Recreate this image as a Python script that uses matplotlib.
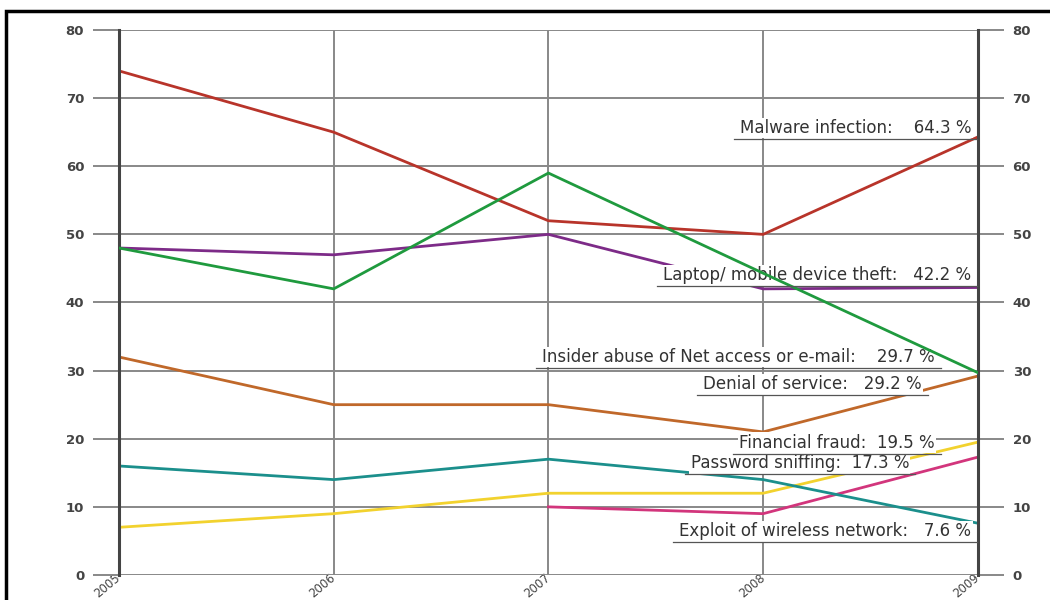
import matplotlib
matplotlib.use('Agg')
import matplotlib.pyplot as plt
from matplotlib.lines import Line2D
from matplotlib.patches import Rectangle
import numpy as np

# data (percent of respondents)
years = [2005, 2006, 2007, 2008, 2009]
malware = [74, 65, 52, 50, 64.3]
laptop = [48, 47, 50, 42, 42.2]
insider = [48, 42, 59, 44.3, 29.7]
denial = [32, 25, 25, 21, 29.2]
fraud = [7, 9, 12, 12, 19.5]
sniffing = [np.nan, np.nan, 10, 9, 17.3]
wireless = [16, 14, 17, 14, 7.6]

series_names = ['Malware infection', 'Laptop/ mobile device theft',
                'Insider abuse of Net access or e-mail', 'Denial of service',
                'Financial fraud', 'Password sniffing',
                'Exploit of wireless network']
series_values = [malware, laptop, insider, denial, fraud, sniffing, wireless]
series_colors = ['#b8342a', '#7d2b88', '#1f9a3e', '#c0682a',
                 '#f2d22e', '#d2357c', '#1b8f8c']
line_z = [2, 2, 4, 2, 2, 2, 2]

# label placement (x right end, y centre) and gap between name and value
label_pos = [(2008.97, 65.6, '    '), (2008.97, 44.0, '   '), (2008.80, 32.0, '    '),
             (2008.74, 28.0, '   '), (2008.80, 19.4, '  '), (2008.68, 16.4, '  '),
             (2008.97, 6.4, '   ')]

fig = plt.figure(figsize=(10.5, 6), dpi=100)
fig.patch.set_facecolor('white')
ax = fig.add_axes([0.1133, 0.0417, 0.818, 0.9083])

for name, vals, col, z in zip(series_names, series_values, series_colors, line_z):
    ax.plot(years, vals, color=col, lw=2.0, zorder=z, solid_joinstyle='miter')

ax.set_xlim(2005, 2009)
ax.set_ylim(0, 80)
ax.set_yticks(range(0, 81, 10))
ax.set_xticks(years)
ax.set_xticklabels([str(y) for y in years], rotation=40, ha='right',
                   va='center', rotation_mode='anchor', fontsize=8.5,
                   color='#444444')
ax.tick_params(axis='x', length=0, pad=1)
ax.tick_params(axis='y', which='both', left=True, right=True, labelleft=True,
               labelright=True, length=19, width=1.4, color='#888888',
               labelsize=9.5, labelcolor='#444444', pad=6)
for lab in ax.get_yticklabels():
    lab.set_fontweight('bold')
ax.grid(True, color='#888888', lw=1.4, zorder=0)
ax.set_axisbelow(True)

for side in ['top', 'bottom']:
    ax.spines[side].set_visible(False)
for side in ['left', 'right']:
    ax.spines[side].set_color('#444444')
    ax.spines[side].set_linewidth(2.2)

texts = []
for (xr, yc, gap), name, vals in zip(label_pos, series_names, series_values):
    t = ax.text(xr, yc, name + ':' + gap + '%.1f %%' % vals[-1], ha='right',
                va='center', fontsize=12, color='#333333', zorder=3,
                bbox=dict(facecolor='white', edgecolor='none', pad=1.0))
    texts.append(t)

fig.canvas.draw()
for t in texts:
    bb = t.get_window_extent()
    x0, x1 = bb.x0 - 6, bb.x1 + 6
    yy = bb.y0 - 2
    fig.add_artist(Line2D([x0 / 1050, x1 / 1050], [yy / 600, yy / 600],
                          transform=fig.transFigure, color='#555555', lw=0.9,
                          zorder=5))

# outer black frame of the original picture (open on the right and bottom)
fig.add_artist(Rectangle((6 / 1050, -0.05), 1.1, 1 - 11 / 600 + 0.05,
                         transform=fig.transFigure, fill=False,
                         edgecolor='black', lw=2.5))

fig.savefig('out.png', dpi=100)
